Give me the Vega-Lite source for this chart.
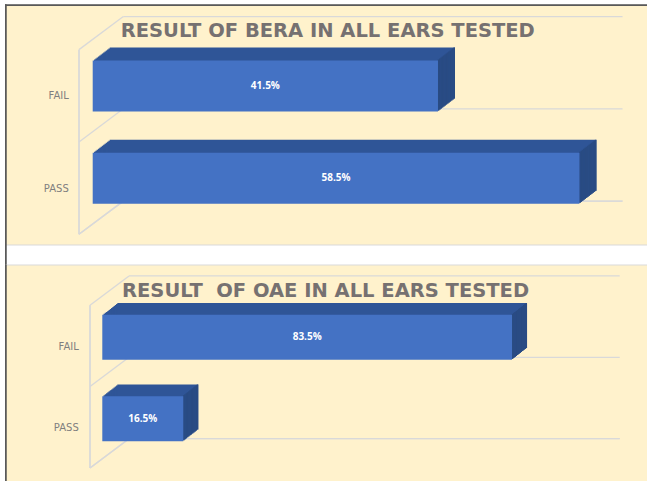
{
"$schema": "https://vega.github.io/schema/vega-lite/v6.json",
"background": "white",
"padding": {"left": 3, "top": 2.5, "right": 0, "bottom": 0},
"spacing": 20,
"bounds": "flush",
"config": {"view": {"fill": "#FFF2CC", "stroke": "#D9D9D9", "strokeWidth": 1}},
"vconcat": [
{
 "width": 642, "height": 240,
 "title": {"text": "RESULT OF BERA IN ALL EARS TESTED", "anchor": "start", "frame": "group", "offset": -52.5, "baseline": "alphabetic", "dx": 115.7, "font": "DejaVu Sans", "fontSize": 19.5, "fontWeight": "bold", "color": "#767171"},
 "data": {"values": [{"result": "FAIL", "pct": 0.415}, {"result": "PASS", "pct": 0.585}]},
 "layer": [
  {"mark": {"type": "rule", "color": "#D9D9D9", "strokeWidth": 1.3, "xOffset": 30.6, "x2Offset": 30.6, "yOffset": -23.3}, "encoding": {"x": {"datum": 0, "type": "quantitative", "axis": null}, "x2": {"datum": 0.6}, "y": {"field": "result", "type": "nominal", "bandPosition": 0, "axis": {"title": null}}}},
  {"mark": {"type": "rule", "color": "#D9D9D9", "strokeWidth": 1.3, "xOffset": 30.6, "x2Offset": 30.6, "yOffset": -23.3}, "encoding": {"x": {"datum": 0, "type": "quantitative", "axis": null}, "x2": {"datum": 0.6}, "y": {"datum": "PASS", "type": "nominal", "bandPosition": 1, "axis": {"title": null}}}},
  {"mark": {"type": "rule", "color": "#D9D9D9", "strokeWidth": 1.3, "xOffset": -13.7, "x2Offset": 30.6, "yOffset": 9.8, "y2Offset": -23.3}, "encoding": {"x": {"datum": 0, "type": "quantitative", "axis": null}, "x2": {"datum": 0}, "y": {"field": "result", "type": "nominal", "bandPosition": 0, "axis": {"title": null}}, "y2": {"field": "result", "bandPosition": 0}}},
  {"mark": {"type": "rule", "color": "#D9D9D9", "strokeWidth": 1.3, "xOffset": -13.7, "x2Offset": 30.6, "yOffset": 9.8, "y2Offset": -23.3}, "encoding": {"x": {"datum": 0, "type": "quantitative", "axis": null}, "x2": {"datum": 0}, "y": {"datum": "PASS", "type": "nominal", "bandPosition": 1, "axis": {"title": null}}, "y2": {"datum": "PASS", "bandPosition": 1}}},
  {"mark": {"type": "rule", "color": "#D9D9D9", "strokeWidth": 1.3, "xOffset": -13.7, "yOffset": 9.8, "y2Offset": 9.8}, "encoding": {"x": {"datum": 0, "type": "quantitative", "axis": null}, "y": {"datum": "FAIL", "type": "nominal", "bandPosition": 0, "axis": {"title": null}}, "y2": {"datum": "PASS", "bandPosition": 1}}},
  {"mark": {"type": "rule", "color": "#595959", "strokeWidth": 1.5, "xOffset": 0.75, "yOffset": -35.35, "y2Offset": 40.05}, "encoding": {"x": {"datum": -0.10541, "type": "quantitative", "axis": null}, "y": {"datum": "FAIL", "type": "nominal", "bandPosition": 0, "axis": {"title": null}}, "y2": {"datum": "PASS", "bandPosition": 1}}},
  {"mark": {"type": "rule", "color": "#595959", "strokeWidth": 1.5, "yOffset": -34.6}, "encoding": {"y": {"datum": "FAIL", "type": "nominal", "bandPosition": 0, "axis": {"title": null}}}},
  {
   "encoding": {
    "y": {"field": "result", "type": "nominal", "scale": {"domain": ["FAIL", "PASS"], "paddingInner": 0, "paddingOuter": 0.3001, "align": 0.638}, "axis": {"title": null, "orient": "left", "offset": -63.3, "labelPadding": 0, "ticks": false, "domain": false, "grid": false, "labelOffset": 10.3, "labelFontSize": 10, "labelColor": "#7F7F7F", "labelFont": "DejaVu Sans", "labelAlign": "right", "labelBaseline": "middle"}},
    "x": {"field": "pct", "type": "quantitative", "scale": {"domain": [-0.10541, 0.6662], "nice": false, "zero": false}, "axis": null}
   },
   "layer": [
    {"mark": {"type": "bar", "size": 51, "color": "#2F5597", "xOffset": 1.31, "x2Offset": 1.31, "yOffset": -1}},
    {"mark": {"type": "bar", "size": 51, "color": "#2F5597", "xOffset": 2.62, "x2Offset": 2.62, "yOffset": -2}},
    {"mark": {"type": "bar", "size": 51, "color": "#2F5597", "xOffset": 3.92, "x2Offset": 3.92, "yOffset": -3}},
    {"mark": {"type": "bar", "size": 51, "color": "#2F5597", "xOffset": 5.23, "x2Offset": 5.23, "yOffset": -4}},
    {"mark": {"type": "bar", "size": 51, "color": "#2F5597", "xOffset": 6.54, "x2Offset": 6.54, "yOffset": -5}},
    {"mark": {"type": "bar", "size": 51, "color": "#2F5597", "xOffset": 7.85, "x2Offset": 7.85, "yOffset": -6}},
    {"mark": {"type": "bar", "size": 51, "color": "#2F5597", "xOffset": 9.15, "x2Offset": 9.15, "yOffset": -7}},
    {"mark": {"type": "bar", "size": 51, "color": "#2F5597", "xOffset": 10.46, "x2Offset": 10.46, "yOffset": -8}},
    {"mark": {"type": "bar", "size": 51, "color": "#2F5597", "xOffset": 11.77, "x2Offset": 11.77, "yOffset": -9}},
    {"mark": {"type": "bar", "size": 51, "color": "#2F5597", "xOffset": 13.08, "x2Offset": 13.08, "yOffset": -10}},
    {"mark": {"type": "bar", "size": 51, "color": "#2F5597", "xOffset": 14.38, "x2Offset": 14.38, "yOffset": -11}},
    {"mark": {"type": "bar", "size": 51, "color": "#2F5597", "xOffset": 15.69, "x2Offset": 15.69, "yOffset": -12}},
    {"mark": {"type": "bar", "size": 51, "color": "#2F5597", "xOffset": 17, "x2Offset": 17, "yOffset": -13}},
    {"mark": {"type": "bar", "size": 51, "color": "#294B83", "xOffset": 1.31, "x2Offset": -0.3, "yOffset": -1}, "encoding": {"x2": {"field": "pct"}}},
    {"mark": {"type": "bar", "size": 51, "color": "#294B83", "xOffset": 2.62, "x2Offset": 1.01, "yOffset": -2}, "encoding": {"x2": {"field": "pct"}}},
    {"mark": {"type": "bar", "size": 51, "color": "#294B83", "xOffset": 3.92, "x2Offset": 2.32, "yOffset": -3}, "encoding": {"x2": {"field": "pct"}}},
    {"mark": {"type": "bar", "size": 51, "color": "#294B83", "xOffset": 5.23, "x2Offset": 3.62, "yOffset": -4}, "encoding": {"x2": {"field": "pct"}}},
    {"mark": {"type": "bar", "size": 51, "color": "#294B83", "xOffset": 6.54, "x2Offset": 4.93, "yOffset": -5}, "encoding": {"x2": {"field": "pct"}}},
    {"mark": {"type": "bar", "size": 51, "color": "#294B83", "xOffset": 7.85, "x2Offset": 6.24, "yOffset": -6}, "encoding": {"x2": {"field": "pct"}}},
    {"mark": {"type": "bar", "size": 51, "color": "#294B83", "xOffset": 9.15, "x2Offset": 7.55, "yOffset": -7}, "encoding": {"x2": {"field": "pct"}}},
    {"mark": {"type": "bar", "size": 51, "color": "#294B83", "xOffset": 10.46, "x2Offset": 8.85, "yOffset": -8}, "encoding": {"x2": {"field": "pct"}}},
    {"mark": {"type": "bar", "size": 51, "color": "#294B83", "xOffset": 11.77, "x2Offset": 10.16, "yOffset": -9}, "encoding": {"x2": {"field": "pct"}}},
    {"mark": {"type": "bar", "size": 51, "color": "#294B83", "xOffset": 13.08, "x2Offset": 11.47, "yOffset": -10}, "encoding": {"x2": {"field": "pct"}}},
    {"mark": {"type": "bar", "size": 51, "color": "#294B83", "xOffset": 14.38, "x2Offset": 12.78, "yOffset": -11}, "encoding": {"x2": {"field": "pct"}}},
    {"mark": {"type": "bar", "size": 51, "color": "#294B83", "xOffset": 15.69, "x2Offset": 14.08, "yOffset": -12}, "encoding": {"x2": {"field": "pct"}}},
    {"mark": {"type": "bar", "size": 51, "color": "#294B83", "xOffset": 17, "x2Offset": 15.39, "yOffset": -13}, "encoding": {"x2": {"field": "pct"}}},
    {"mark": {"type": "bar", "size": 51, "color": "#4472C4"}},
    {"mark": {"type": "text", "color": "white", "font": "Open Sans", "fontWeight": "bold", "fontSize": 10, "baseline": "middle", "align": "center"}, "encoding": {"x": {"field": "pct", "type": "quantitative", "stack": "zero", "bandPosition": 0.5}, "text": {"field": "pct", "type": "quantitative", "format": ".1%"}}}
   ]
  }
 ]
},
{
 "width": 642, "height": 217,
 "title": {"text": "RESULT \u00a0OF OAE IN ALL EARS TESTED", "anchor": "start", "frame": "group", "offset": -52.9, "baseline": "alphabetic", "dx": 117, "font": "DejaVu Sans", "fontSize": 19.5, "fontWeight": "bold", "color": "#767171"},
 "data": {"values": [{"result": "FAIL", "pct": 0.835}, {"result": "PASS", "pct": 0.165}]},
 "layer": [
  {"mark": {"type": "rule", "color": "#D9D9D9", "strokeWidth": 1.3, "xOffset": 26.7, "x2Offset": 26.7, "yOffset": -20.7}, "encoding": {"x": {"datum": 0, "type": "quantitative", "axis": null}, "x2": {"datum": 1}, "y": {"field": "result", "type": "nominal", "bandPosition": 0, "axis": {"title": null}}}},
  {"mark": {"type": "rule", "color": "#D9D9D9", "strokeWidth": 1.3, "xOffset": 26.7, "x2Offset": 26.7, "yOffset": -20.7}, "encoding": {"x": {"datum": 0, "type": "quantitative", "axis": null}, "x2": {"datum": 1}, "y": {"datum": "PASS", "type": "nominal", "bandPosition": 1, "axis": {"title": null}}}},
  {"mark": {"type": "rule", "color": "#D9D9D9", "strokeWidth": 1.3, "xOffset": -12.3, "x2Offset": 26.7, "yOffset": 8.6, "y2Offset": -20.7}, "encoding": {"x": {"datum": 0, "type": "quantitative", "axis": null}, "x2": {"datum": 0}, "y": {"field": "result", "type": "nominal", "bandPosition": 0, "axis": {"title": null}}, "y2": {"field": "result", "bandPosition": 0}}},
  {"mark": {"type": "rule", "color": "#D9D9D9", "strokeWidth": 1.3, "xOffset": -12.3, "x2Offset": 26.7, "yOffset": 8.6, "y2Offset": -20.7}, "encoding": {"x": {"datum": 0, "type": "quantitative", "axis": null}, "x2": {"datum": 0}, "y": {"datum": "PASS", "type": "nominal", "bandPosition": 1, "axis": {"title": null}}, "y2": {"datum": "PASS", "bandPosition": 1}}},
  {"mark": {"type": "rule", "color": "#D9D9D9", "strokeWidth": 1.3, "xOffset": -12.3, "yOffset": 8.6, "y2Offset": 8.6}, "encoding": {"x": {"datum": 0, "type": "quantitative", "axis": null}, "y": {"datum": "FAIL", "type": "nominal", "bandPosition": 0, "axis": {"title": null}}, "y2": {"datum": "PASS", "bandPosition": 1}}},
  {"mark": {"type": "rule", "color": "#595959", "strokeWidth": 1.5, "xOffset": 0.75}, "encoding": {"x": {"datum": -0.19829, "type": "quantitative", "axis": null}}},
  {
   "encoding": {
    "y": {"field": "result", "type": "nominal", "scale": {"domain": ["FAIL", "PASS"], "paddingInner": 0, "paddingOuter": 0.3329, "align": 0.5923}, "axis": {"title": null, "orient": "left", "offset": -73.3, "labelPadding": 0, "ticks": false, "domain": false, "grid": false, "labelOffset": 9.5, "labelFontSize": 10, "labelColor": "#7F7F7F", "labelFont": "DejaVu Sans", "labelAlign": "right", "labelBaseline": "middle"}},
    "x": {"field": "pct", "type": "quantitative", "scale": {"domain": [-0.19829, 1.11005], "nice": false, "zero": false}, "axis": null}
   },
   "layer": [
    {"mark": {"type": "bar", "size": 45, "color": "#2F5597", "xOffset": 1.25, "x2Offset": 1.25, "yOffset": -0.975}},
    {"mark": {"type": "bar", "size": 45, "color": "#2F5597", "xOffset": 2.5, "x2Offset": 2.5, "yOffset": -1.95}},
    {"mark": {"type": "bar", "size": 45, "color": "#2F5597", "xOffset": 3.75, "x2Offset": 3.75, "yOffset": -2.925}},
    {"mark": {"type": "bar", "size": 45, "color": "#2F5597", "xOffset": 5, "x2Offset": 5, "yOffset": -3.9}},
    {"mark": {"type": "bar", "size": 45, "color": "#2F5597", "xOffset": 6.25, "x2Offset": 6.25, "yOffset": -4.875}},
    {"mark": {"type": "bar", "size": 45, "color": "#2F5597", "xOffset": 7.5, "x2Offset": 7.5, "yOffset": -5.85}},
    {"mark": {"type": "bar", "size": 45, "color": "#2F5597", "xOffset": 8.75, "x2Offset": 8.75, "yOffset": -6.825}},
    {"mark": {"type": "bar", "size": 45, "color": "#2F5597", "xOffset": 10, "x2Offset": 10, "yOffset": -7.8}},
    {"mark": {"type": "bar", "size": 45, "color": "#2F5597", "xOffset": 11.25, "x2Offset": 11.25, "yOffset": -8.775}},
    {"mark": {"type": "bar", "size": 45, "color": "#2F5597", "xOffset": 12.5, "x2Offset": 12.5, "yOffset": -9.75}},
    {"mark": {"type": "bar", "size": 45, "color": "#2F5597", "xOffset": 13.75, "x2Offset": 13.75, "yOffset": -10.725}},
    {"mark": {"type": "bar", "size": 45, "color": "#2F5597", "xOffset": 15, "x2Offset": 15, "yOffset": -11.7}},
    {"mark": {"type": "bar", "size": 45, "color": "#294B83", "xOffset": 1.25, "x2Offset": -0.3, "yOffset": -0.975}, "encoding": {"x2": {"field": "pct"}}},
    {"mark": {"type": "bar", "size": 45, "color": "#294B83", "xOffset": 2.5, "x2Offset": 0.95, "yOffset": -1.95}, "encoding": {"x2": {"field": "pct"}}},
    {"mark": {"type": "bar", "size": 45, "color": "#294B83", "xOffset": 3.75, "x2Offset": 2.2, "yOffset": -2.925}, "encoding": {"x2": {"field": "pct"}}},
    {"mark": {"type": "bar", "size": 45, "color": "#294B83", "xOffset": 5, "x2Offset": 3.45, "yOffset": -3.9}, "encoding": {"x2": {"field": "pct"}}},
    {"mark": {"type": "bar", "size": 45, "color": "#294B83", "xOffset": 6.25, "x2Offset": 4.7, "yOffset": -4.875}, "encoding": {"x2": {"field": "pct"}}},
    {"mark": {"type": "bar", "size": 45, "color": "#294B83", "xOffset": 7.5, "x2Offset": 5.95, "yOffset": -5.85}, "encoding": {"x2": {"field": "pct"}}},
    {"mark": {"type": "bar", "size": 45, "color": "#294B83", "xOffset": 8.75, "x2Offset": 7.2, "yOffset": -6.825}, "encoding": {"x2": {"field": "pct"}}},
    {"mark": {"type": "bar", "size": 45, "color": "#294B83", "xOffset": 10, "x2Offset": 8.45, "yOffset": -7.8}, "encoding": {"x2": {"field": "pct"}}},
    {"mark": {"type": "bar", "size": 45, "color": "#294B83", "xOffset": 11.25, "x2Offset": 9.7, "yOffset": -8.775}, "encoding": {"x2": {"field": "pct"}}},
    {"mark": {"type": "bar", "size": 45, "color": "#294B83", "xOffset": 12.5, "x2Offset": 10.95, "yOffset": -9.75}, "encoding": {"x2": {"field": "pct"}}},
    {"mark": {"type": "bar", "size": 45, "color": "#294B83", "xOffset": 13.75, "x2Offset": 12.2, "yOffset": -10.725}, "encoding": {"x2": {"field": "pct"}}},
    {"mark": {"type": "bar", "size": 45, "color": "#294B83", "xOffset": 15, "x2Offset": 13.45, "yOffset": -11.7}, "encoding": {"x2": {"field": "pct"}}},
    {"mark": {"type": "bar", "size": 45, "color": "#4472C4"}},
    {"mark": {"type": "text", "color": "white", "font": "Open Sans", "fontWeight": "bold", "fontSize": 10, "baseline": "middle", "align": "center"}, "encoding": {"x": {"field": "pct", "type": "quantitative", "stack": "zero", "bandPosition": 0.5}, "text": {"field": "pct", "type": "quantitative", "format": ".1%"}}}
   ]
  }
 ]
}
]
}
